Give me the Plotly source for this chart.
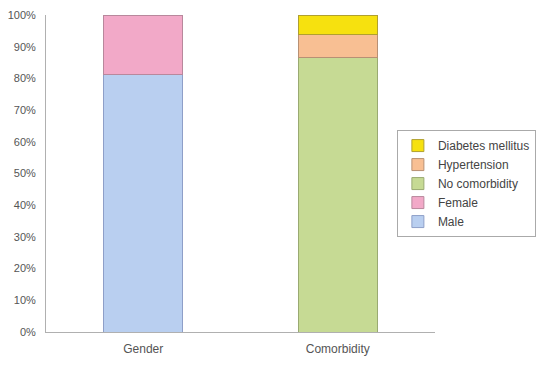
import plotly.graph_objects as go

categories = ["Gender", "Comorbidity"]
series_names = ["Male", "Female", "No comorbidity", "Hypertension", "Diabetes mellitus"]
male = [81.3, None]
female = [18.7, None]
no_comorbidity = [None, 86.5]
hypertension = [None, 7.3]
diabetes = [None, 6.2]
y_ticks = [0, 10, 20, 30, 40, 50, 60, 70, 80, 90, 100]
y_tick_labels = [f"{v}%" for v in y_ticks]

fills = ["#b9cff0", "#f2a9c8", "#c6da94", "#f8bf93", "#f6e10f"]
lines = ["#8e9fc8", "#b8889c", "#9aaa72", "#b89074", "#b0a030"]
values = [male, female, no_comorbidity, hypertension, diabetes]

fig = go.Figure()
for name, vals, fc, lc in zip(series_names, values, fills, lines):
    fig.add_trace(go.Bar(
        x=categories, y=vals, name=name,
        marker=dict(color=fc, line=dict(color=lc, width=1)),
    ))

# The page body has an 8px margin, so the figure is sized to fit inside it.
fig.update_layout(
    width=529, height=350,
    barmode="stack", bargap=0.595,
    paper_bgcolor="#ffffff", plot_bgcolor="#ffffff",
    margin=dict(l=38, r=102, t=7, b=26, autoexpand=False),
    font=dict(family="Liberation Sans, Arial, sans-serif", color="#555555"),
    showlegend=True,
    legend=dict(
        traceorder="reversed",
        x=0.902, xanchor="left", y=0.637, yanchor="top",
        bgcolor="#ffffff", bordercolor="#aaaaaa", borderwidth=1,
        font=dict(size=12, color="#444444"),
        itemwidth=30,
    ),
    xaxis=dict(
        automargin=False,
        showline=True, linecolor="#b0b0b0", linewidth=1,
        showgrid=False, ticks="", tickfont=dict(size=12, color="#555555"),
        ticklabelstandoff=6,
    ),
    yaxis=dict(
        automargin=False,
        range=[0, 100], tickvals=y_ticks, ticktext=y_tick_labels,
        showline=True, linecolor="#b0b0b0", linewidth=1,
        showgrid=False, zeroline=False, ticks="",
        tickfont=dict(size=11, color="#555555"), ticklabelstandoff=7,
    ),
)

fig.write_html("out.html")
